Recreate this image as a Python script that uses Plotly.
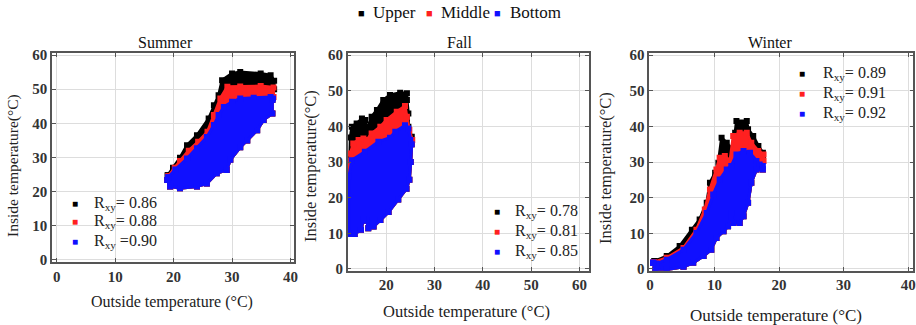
import plotly.graph_objects as go

# ---------------- data (outlines of the point clouds) ----------------
# Summer
summer_lower_x = [36.9, 36.9, 35.4, 34.3, 32.6, 31.4, 29.7, 29.1, 27.4, 25.7, 24.0, 21.1, 19.4, 18.9]
summer_lower_y = [46.8, 42.9, 41.0, 38.0, 35.0, 33.0, 29.3, 26.3, 25.4, 22.4, 21.5, 21.0, 21.5, 23.4]
summer_upper_x = [19.0, 19.9, 21.1, 22.3, 24.0, 26.0, 26.9, 27.7, 28.3, 30.0, 31.4, 34.9, 36.6, 37.2, 37.2]
summer_upper_y = [24.8, 27.0, 29.9, 33.6, 36.5, 41.4, 45.3, 48.2, 52.6, 54.6, 55.0, 54.6, 54.1, 52.5, 50.0]
summer_middle_x = [19.1, 20.2, 21.1, 22.6, 24.2, 25.8, 26.9, 28.0, 29.2, 31.4, 34.9, 37.1, 37.1]
summer_middle_y = [24.5, 27.0, 29.0, 32.0, 34.6, 37.5, 42.4, 47.3, 50.7, 50.8, 50.9, 50.5, 47.7]
summer_bottom_x = [19.1, 20.3, 22.3, 24.0, 25.7, 26.9, 27.7, 28.6, 30.0, 31.4, 33.7, 36.6, 37.0]
summer_bottom_y = [24.2, 26.5, 29.7, 32.7, 36.0, 39.5, 42.4, 44.8, 46.3, 47.3, 47.5, 47.7, 47.3]

# Fall
fall_lower_x = [25.3, 25.1, 24.8, 24.2, 22.5, 20.5, 18.8, 17.4, 16.3, 16.0, 15.3, 14.8, 13.5, 12.25]
fall_lower_y = [35.0, 30.0, 25.0, 22.5, 19.5, 16.0, 13.7, 11.9, 11.4, 13.5, 13.8, 11.0, 9.8, 9.8]
fall_upper_x = [12.5, 12.6, 12.9, 13.9, 15.0, 15.7, 16.0, 17.0, 18.1, 19.4, 20.8, 22.9, 24.3, 24.3, 24.6, 24.6, 25.3]
fall_upper_y = [32.0, 36.9, 39.9, 40.8, 42.2, 41.8, 39.0, 42.7, 44.6, 47.4, 48.8, 49.4, 49.3, 47.4, 43.6, 39.9, 37.1]
fall_middle_x = [12.1, 12.2, 12.6, 13.2, 14.3, 15.3, 16.0, 17.0, 18.8, 20.1, 22.2, 23.9, 24.3, 24.8, 25.4]
fall_middle_y = [15.0, 28.0, 32.4, 35.2, 36.2, 36.6, 36.2, 38.0, 39.9, 41.8, 44.1, 45.7, 42.7, 39.0, 36.2]
fall_bottom_x = [12.3, 12.3, 12.9, 15.6, 18.4, 20.8, 21.9, 23.9, 24.6, 25.0]
fall_bottom_y = [10.0, 25.9, 30.5, 32.9, 35.7, 36.8, 38.5, 40.3, 39.4, 36.2]

# Winter
winter_lower_x = [17.5, 16.5, 15.7, 15.2, 14.5, 13.9, 12.9, 12.6, 12.1, 11.4, 10.3, 9.5, 8.3, 6.7, 5.2, 2.6, 0.8, 0.5]
winter_lower_y = [27.9, 27.9, 24.2, 18.6, 14.8, 12.9, 12.9, 15.7, 12.0, 10.6, 8.7, 5.4, 3.6, 1.7, 0.6, -0.2, -0.4, 1.7]
winter_upper_x = [0.7, 2.6, 4.6, 6.5, 7.7, 8.8, 9.3, 10.1, 10.6, 11.1, 11.9, 12.6, 13.2, 13.4, 15.0, 15.2, 16.0, 16.8, 17.5, 17.5]
winter_upper_y = [2.2, 3.6, 6.4, 11.0, 13.9, 18.6, 24.2, 27.0, 29.8, 36.8, 35.4, 33.6, 38.2, 41.5, 41.5, 39.2, 37.3, 34.5, 32.6, 30.7]
winter_middle_x = [0.6, 2.6, 5.2, 7.2, 8.5, 9.3, 10.3, 10.8, 11.6, 12.4, 12.9, 13.9, 15.0, 15.7, 16.8, 17.6, 17.6]
winter_middle_y = [1.9, 3.1, 5.9, 11.0, 16.7, 22.3, 27.9, 31.2, 31.7, 30.3, 37.3, 38.2, 38.2, 35.4, 33.1, 32.1, 30.3]
winter_bottom_x = [0.5, 1.0, 2.6, 5.2, 7.2, 8.8, 9.8, 10.8, 11.9, 12.6, 13.4, 14.5, 15.5, 16.5, 17.0, 17.5]
winter_bottom_y = [1.7, 1.5, 2.6, 5.4, 10.1, 15.7, 20.9, 25.1, 27.9, 28.9, 32.1, 33.1, 32.6, 30.3, 29.3, 28.9]

seasons = ["Summer", "Fall", "Winter"]
levels = ["Upper", "Middle", "Bottom"]
colors = {"Upper": "#000000", "Middle": "#ff2020", "Bottom": "#1010ff"}
rxy = {"Summer": ["= 0.86", "= 0.88", " =0.90"],
       "Fall": ["= 0.78", "= 0.81", "= 0.85"],
       "Winter": ["= 0.89", "= 0.91", "= 0.92"]}

outlines = {
    "Summer": {"lower": (summer_lower_x, summer_lower_y),
               "Upper": (summer_upper_x, summer_upper_y),
               "Middle": (summer_middle_x, summer_middle_y),
               "Bottom": (summer_bottom_x, summer_bottom_y)},
    "Fall": {"lower": (fall_lower_x, fall_lower_y),
             "Upper": (fall_upper_x, fall_upper_y),
             "Middle": (fall_middle_x, fall_middle_y),
             "Bottom": (fall_bottom_x, fall_bottom_y)},
    "Winter": {"lower": (winter_lower_x, winter_lower_y),
               "Upper": (winter_upper_x, winter_upper_y),
               "Middle": (winter_middle_x, winter_middle_y),
               "Bottom": (winter_bottom_x, winter_bottom_y)},
}

x_ranges = {"Summer": [-0.8, 40.6], "Fall": [12.05, 61.9], "Winter": [-0.1, 40.8]}
y_ranges = {"Summer": [-0.6, 60.5], "Fall": [-0.5, 60.5], "Winter": [-0.5, 60.5]}

W, H = 916, 325
# plot areas in pixels: left, right, top, bottom
boxes = {"Summer": (52, 294, 53.3, 262), "Fall": (347.7, 588.7, 53.3, 270.7), "Winter": (649.3, 913.3, 53.3, 270.7)}

FONT = "Liberation Serif"

fig = go.Figure()
for i, s in enumerate(seasons):
    ax = "" if i == 0 else str(i + 1)
    lx, ly = outlines[s]["lower"]
    for lev in levels:
        ux, uy = outlines[s][lev]
        xs = list(ux) + list(lx) + [ux[0]]
        ys = list(uy) + list(ly) + [uy[0]]
        fig.add_trace(go.Scatter(
            x=xs, y=ys, mode="lines+markers", fill="toself",
            fillcolor=colors[lev], line=dict(color=colors[lev], width=3),
            marker=dict(symbol="square", size=6, color=colors[lev]),
            xaxis="x" + ax, yaxis="y" + ax, showlegend=False, hoverinfo="skip"))

layout = dict(width=W, height=H, margin=dict(l=0, r=0, t=0, b=0, pad=0, autoexpand=False),
              paper_bgcolor="white", plot_bgcolor="white", showlegend=False,
              font=dict(family=FONT, color="#222"))

annotations = []
def px(xp):
    return xp / W
def py(yp):
    return 1 - yp / H

def note(text, xp, yp, size=15, xanchor="center", angle=0, color="#222"):
    return dict(text=text, x=px(xp), y=py(yp), xref="paper", yref="paper",
                xanchor=xanchor, yanchor="middle", textangle=angle, showarrow=False,
                font=dict(family=FONT, size=size, color=color))

for i, s in enumerate(seasons):
    ax = "" if i == 0 else str(i + 1)
    l, r, t, b = boxes[s]
    common = dict(showgrid=True, gridcolor="#dddddd", gridwidth=1, zeroline=False,
                  showline=True, linecolor="#555555", linewidth=1.5, mirror="ticks",
                  ticks="inside", ticklen=4, tickcolor="#555555", dtick=10, automargin=False,
                  tickfont=dict(family=FONT, size=15, color="#333", weight="bold"))
    layout["xaxis" + ax] = dict(domain=[px(l), px(r)], range=x_ranges[s], anchor="y" + ax,
                                tick0=0, **common)
    layout["yaxis" + ax] = dict(domain=[py(b), py(t)], range=y_ranges[s], anchor="x" + ax,
                                tick0=0, **common)

# subplot titles
for s, xc in zip(seasons, [165, 460, 770]):
    annotations.append(note(s, xc, 42, size=16, color="#111"))
# axis titles
for xc, yc, fs in [(172, 301.5, 16), (466, 311, 16.5), (776, 315, 17)]:
    annotations.append(note("Outside temperature (°C)", xc, yc, size=fs))
for xc, yc, fs in [(13, 166, 15.5), (310, 166, 16.5), (605, 168, 16.5)]:
    annotations.append(note("Inside temperature(°C)", xc, yc, size=fs, angle=-90))

# in-panel R_xy labels: (square x, text x, row y's)
label_pos = {"Summer": (75, 92, [203.3, 222, 241.7]),
             "Fall": (496.7, 513, [211.7, 231.7, 251.7]),
             "Winter": (801.7, 821, [73.3, 93.3, 113.3])}
for s in seasons:
    xs_, xt_, rows = label_pos[s]
    for lev, yy, val in zip(levels, rows, rxy[s]):
        annotations.append(note("■", xs_, yy, size=10, color=colors[lev]))
        annotations.append(note(f"R<sub>xy</sub>{val}", xt_, yy, size=16, xanchor="left"))

# top legend
for lev, xs_, xt_ in zip(levels, [361, 429, 497], [371, 439, 508]):
    annotations.append(note("■", xs_, 13, size=11, color=colors[lev]))
    annotations.append(note(lev, xt_, 12, size=17, xanchor="left", color="#111"))

layout["annotations"] = annotations
fig.update_layout(**layout)
fig.write_html("out.html")
